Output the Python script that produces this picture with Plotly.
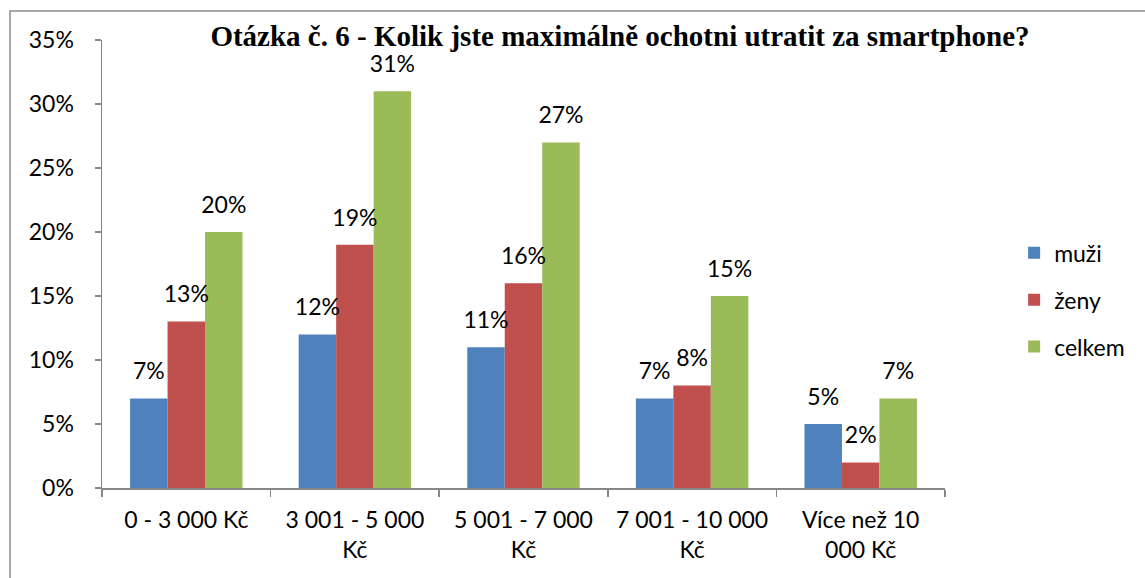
import plotly.graph_objects as go

categories = ["0 - 3 000 Kč", "3 001 - 5 000<br>Kč", "5 001 - 7 000<br>Kč", "7 001 - 10 000<br>Kč", "Více než 10<br>000 Kč"]
muzi = [0.07, 0.12, 0.11, 0.07, 0.05]
zeny = [0.13, 0.19, 0.16, 0.08, 0.02]
celkem = [0.20, 0.31, 0.27, 0.15, 0.07]
series_names = ["muži", "ženy", "celkem"]
series_values = [muzi, zeny, celkem]
colors = ["#4F81BD", "#C0504D", "#9BBB59"]
y_tickvals = [0, 0.05, 0.10, 0.15, 0.20, 0.25, 0.30, 0.35]
title_text = "Otázka č. 6 - Kolik jste maximálně ochotni utratit za smartphone?"

FONT = "Lato"
FS = 23

fig = go.Figure()
for name, vals, col in zip(series_names, series_values, colors):
    fig.add_trace(go.Bar(
        x=categories, y=vals, name=name, marker=dict(color=col, line=dict(width=0)),
        legendgroup=name, hoverinfo="skip",
    ))
for name, vals in zip(series_names, series_values):
    fig.add_trace(go.Scatter(
        x=categories, y=vals, mode="markers+text",
        text=[f"{round(v*100)}%" for v in vals], textposition="top center",
        textfont=dict(family=FONT, size=FS, color="#000000"),
        marker=dict(size=20, color="rgba(0,0,0,0)"),
        showlegend=False, hoverinfo="skip", cliponaxis=False,
    ))

fig.update_layout(
    width=1145, height=578,
    margin=dict(l=102, r=200, t=40, b=90),
    paper_bgcolor="white", plot_bgcolor="white",
    barmode="group", bargap=0.333, bargroupgap=0,
    scattermode="group", scattergap=0.333,
    font=dict(family=FONT, size=FS, color="#000000"),
    title=dict(text=f"<b>{title_text}</b>", font=dict(family="Liberation Serif", size=29, color="#000000"),
               x=620/1145, xref="container", xanchor="center",
               y=1-36/578, yref="container", yanchor="middle"),
    legend=dict(x=1.082, xanchor="left", y=0.42, yanchor="middle",
                traceorder="grouped", tracegroupgap=14,
                font=dict(family=FONT, size=FS), bgcolor="rgba(0,0,0,0)"),
    showlegend=True,
)
fig.update_xaxes(
    showgrid=False, showline=True, linecolor="#868686", linewidth=1.5,
    ticks="outside", tickson="boundaries", ticklen=7, tickcolor="#868686", tickwidth=1.5,
    tickfont=dict(family=FONT, size=FS), ticklabelstandoff=11,
)
fig.update_yaxes(
    range=[0, 0.35], tickvals=y_tickvals, tickformat=".0%",
    showgrid=False, showline=True, linecolor="#868686", linewidth=1.5, zeroline=False,
    ticks="outside", ticklen=6, tickcolor="#868686", tickwidth=1.5,
    tickfont=dict(family=FONT, size=FS), ticklabelstandoff=16,
)
fig.add_shape(type="rect", xref="paper", yref="paper",
              x0=(10-102)/843, x1=2, y0=-1, y1=(488-11)/448,
              line=dict(color="#8C8C8C", width=1.5), fillcolor="rgba(0,0,0,0)", layer="below")

fig.write_html("out.html", config={"displayModeBar": False, "staticPlot": True},
               post_script="document.body.style.margin='0px';document.body.style.overflow='hidden';")
